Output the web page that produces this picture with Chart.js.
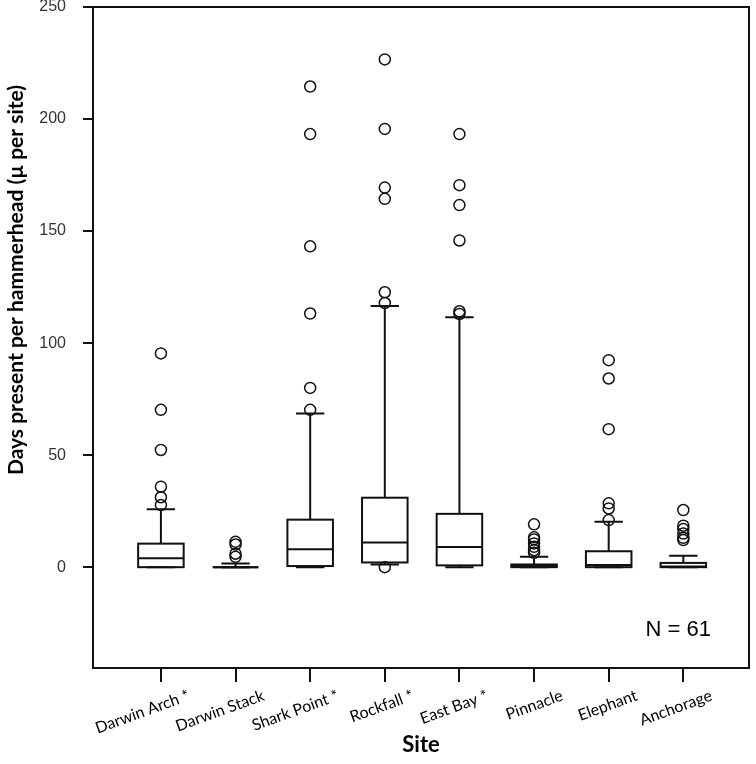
<!DOCTYPE html>
<html>
<head>
<meta charset="utf-8">
<script src="https://cdn.jsdelivr.net/npm/chart.js@4.4.1/dist/chart.umd.min.js"></script>
<style>
  html, body { margin: 0; padding: 0; background: #fff; }
  #wrap { width: 756px; height: 764px; }
</style>
</head>
<body>
<div id="wrap"><canvas id="boxChart" width="756" height="764"></canvas></div>
<script>
'use strict';

// sites along the x axis
const sites = ['Darwin Arch *', 'Darwin Stack', 'Shark Point *', 'Rockfall *', 'East Bay *', 'Pinnacle', 'Elephant', 'Anchorage'];

// box plot statistics (days present per hammerhead)
const lowerWhisker = [0, 0, 0, 1.2, 0, 0, 0, 0];
const q1 = [0, 0, 0.5, 2.1, 0.8, 0, 0, 0];
const median = [4, 0, 8, 11, 9, 0.5, 1, 0.3];
const q3 = [10.5, 0, 21.2, 31, 23.8, 1.2, 7.1, 1.9];
const upperWhisker = [25.8, 1.6, 68.6, 116.6, 111.5, 4.6, 20.3, 5.1];

// outliers per site
const outliers = [
    [95.4, 70.2, 52.3, 35.9, 31.2, 27.7],
    [11.3, 10.1, 6, 4.6],
    [214.5, 193.3, 143.2, 113.2, 80, 70.2],
    [226.6, 195.6, 169.4, 164.4, 122.7, 117.9, 0],
    [193.3, 170.5, 161.6, 145.8, 114.2, 113],
    [19.1, 13.3, 12.4, 10.6, 9.1, 7.6, 6.4],
    [92.4, 84.2, 61.6, 28.5, 26.2, 21],
    [25.5, 18.5, 17, 15, 13.1, 12.1]
];

const yTicks = [0, 50, 100, 150, 200, 250];
const yMin = -45;
const yMax = 250;
const sampleNote = 'N = 61';
const yTitle = 'Days present per hammerhead (\u00b5 per site)';

const boxHalf = 0.305; // in category units
const capHalf = 0.19;

const outlierPoints = [];
outliers.forEach((vals, i) => vals.forEach(v => outlierPoints.push({ x: i + 1, y: v })));

const boxPlotPlugin = {
    id: 'boxPlot',
    beforeDatasetsDraw(chart) {
        const { ctx, scales: { x, y } } = chart;
        ctx.save();
        ctx.strokeStyle = '#111';
        ctx.lineWidth = 2;
        sites.forEach((s, i) => {
            const c = x.getPixelForValue(i + 1);
            const l = x.getPixelForValue(i + 1 - boxHalf);
            const r = x.getPixelForValue(i + 1 + boxHalf);
            const cl = x.getPixelForValue(i + 1 - capHalf);
            const cr = x.getPixelForValue(i + 1 + capHalf);
            const yLo = y.getPixelForValue(lowerWhisker[i]);
            const yQ1 = y.getPixelForValue(q1[i]);
            const yMed = y.getPixelForValue(median[i]);
            const yQ3 = y.getPixelForValue(q3[i]);
            const yHi = y.getPixelForValue(upperWhisker[i]);

            ctx.beginPath();
            ctx.moveTo(c, yQ3); ctx.lineTo(c, yHi);
            ctx.moveTo(cl, yHi); ctx.lineTo(cr, yHi);
            ctx.moveTo(c, yQ1); ctx.lineTo(c, yLo);
            ctx.moveTo(cl, yLo); ctx.lineTo(cr, yLo);
            ctx.stroke();

            ctx.strokeRect(l, yQ3, r - l, yQ1 - yQ3);

            ctx.beginPath();
            ctx.moveTo(l, yMed); ctx.lineTo(r, yMed);
            ctx.stroke();
        });
        ctx.restore();
    },
    afterDraw(chart) {
        const { ctx, chartArea: a } = chart;
        ctx.save();
        // plot frame
        ctx.strokeStyle = '#111';
        ctx.lineWidth = 2;
        ctx.strokeRect(a.left, a.top, a.right - a.left, a.bottom - a.top);

        // sample size note
        ctx.fillStyle = '#000';
        ctx.font = '22px "Liberation Sans", Arial, sans-serif';
        ctx.textAlign = 'right';
        ctx.textBaseline = 'middle';
        ctx.fillText(sampleNote, a.right - 38, a.bottom - 38);

        // y axis title, sits above centre like the original
        ctx.translate(16, 280);
        ctx.rotate(-Math.PI / 2);
        ctx.font = 'bold 21px Lato, sans-serif';
        ctx.textAlign = 'center';
        ctx.fillText(yTitle, 0, 0);
        ctx.restore();
    }
};

new Chart(document.getElementById('boxChart').getContext('2d'), {
    type: 'scatter',
    data: {
        datasets: [{
            label: 'Outliers',
            data: outlierPoints,
            pointStyle: 'circle',
            pointRadius: 5.5,
            pointBackgroundColor: 'rgba(0,0,0,0)',
            pointBorderColor: '#111',
            pointBorderWidth: 1.5
        }]
    },
    options: {
        responsive: false,
        animation: false,
        layout: { padding: { top: 7, right: 3, left: 0, bottom: 0 } },
        plugins: { legend: { display: false }, tooltip: { enabled: false } },
        scales: {
            x: {
                type: 'linear',
                min: 0.09,
                max: 8.88,
                afterBuildTicks: (scale) => { scale.ticks = sites.map((s, i) => ({ value: i + 1 })); },
                afterFit: (scale) => {
                    scale.height = 96;
                    scale.paddingLeft = 0;
                    scale.paddingRight = 0;
                },
                ticks: {
                    autoSkip: false,
                    minRotation: 20,
                    maxRotation: 20,
                    padding: 4,
                    labelOffset: 28,
                    color: '#000',
                    font: { family: 'Lato, sans-serif', size: 16 },
                    callback: (v) => sites[v - 1]
                },
                grid: { drawOnChartArea: false, tickLength: 14, color: '#111', lineWidth: 2 },
                border: { color: '#111', width: 2 },
                title: {
                    display: true,
                    text: 'Site',
                    color: '#000',
                    font: { family: 'Lato, sans-serif', size: 22, weight: 'bold' },
                    padding: { top: 0, bottom: 6 }
                }
            },
            y: {
                min: yMin,
                max: yMax,
                afterBuildTicks: (scale) => { scale.ticks = yTicks.map(v => ({ value: v })); },
                afterFit: (scale) => {
                    scale.width = 93;
                    scale.paddingTop = 0;
                    scale.paddingBottom = 0;
                },
                ticks: {
                    padding: 17,
                    color: '#333',
                    font: { family: '"Liberation Sans", Arial, sans-serif', size: 16 }
                },
                grid: { drawOnChartArea: false, tickLength: 10, color: '#111', lineWidth: 2 },
                border: { color: '#111', width: 2 }
            }
        }
    },
    plugins: [boxPlotPlugin]
});
</script>
</body>
</html>
